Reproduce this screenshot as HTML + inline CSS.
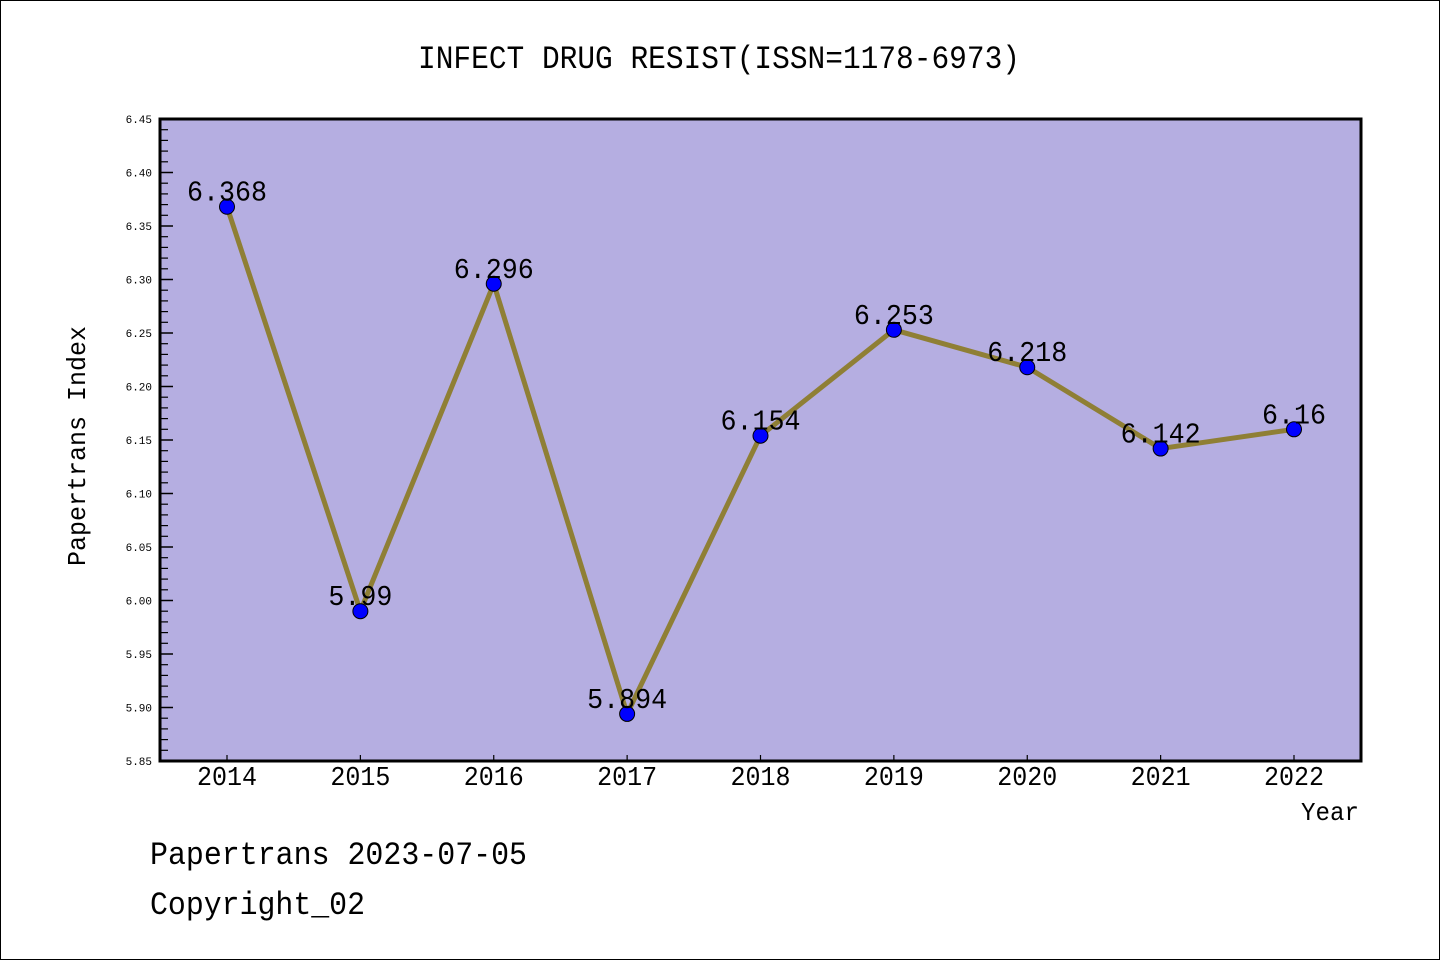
<!DOCTYPE html>
<html><head><meta charset="utf-8"><style>
html,body{margin:0;padding:0;background:#fff}
svg{display:block}
text{font-family:"Liberation Mono","WenQuanYi Zen Hei",monospace;fill:#000}
</style></head><body>
<svg id="chart" width="1440" height="960">
<rect x="0.5" y="0.5" width="1439" height="959" fill="#fff" stroke="#000"/>
<text x="719" y="68" font-size="32" text-anchor="middle" textLength="602" lengthAdjust="spacingAndGlyphs">INFECT DRUG RESIST(ISSN=1178-6973)</text>
<rect x="160" y="119" width="1201" height="642" fill="#b5aee1"/>
<g id="axes"></g>
<g id="marks"></g>
<rect x="160" y="119" width="1201" height="642" fill="none" stroke="#000" stroke-width="3"/>
<text transform="translate(85,446) rotate(-90)" font-size="26" text-anchor="middle" textLength="240" lengthAdjust="spacingAndGlyphs">Papertrans Index</text>
<text x="1359" y="820" font-size="26" text-anchor="end" textLength="58" lengthAdjust="spacingAndGlyphs">Year</text>
<text x="150" y="864" font-size="32" textLength="377" lengthAdjust="spacingAndGlyphs">Papertrans 2023-07-05</text>
<text x="150" y="914" font-size="32" textLength="215" lengthAdjust="spacingAndGlyphs">Copyright_02</text>
</svg>
<script>
const years = ["2014","2015","2016","2017","2018","2019","2020","2021","2022"];
const values = [6.368,5.99,6.296,5.894,6.154,6.253,6.218,6.142,6.16];
const valueLabels = ["6.368","5.99","6.296","5.894","6.154","6.253","6.218","6.142","6.16"];
const yTicks = [5.85,5.90,5.95,6.00,6.05,6.10,6.15,6.20,6.25,6.30,6.35,6.40,6.45];
const yMin = 5.85, yMax = 6.45;
const NS = "http://www.w3.org/2000/svg";
function yS(v){return 761 - (v - yMin) / (yMax - yMin) * 642;}
function xS(i){return 227 + i * (1294 - 227) / (years.length - 1);}
function mk(tag, attrs, parent){const e=document.createElementNS(NS,tag);for(const k in attrs)e.setAttribute(k,attrs[k]);parent.appendChild(e);return e;}
const axes=document.getElementById('axes'), marks=document.getElementById('marks');
yTicks.forEach((t,i)=>{
  const y=yS(t);
  const l=mk('line',{x1:160,x2:173,y1:y,y2:y,stroke:'#000','stroke-width':1.5},axes);
  
  
  const tx=mk('text',{x:152,y:y+4,'font-size':11,'text-anchor':'end','font-family':'Liberation Sans, sans-serif'},axes);
  tx.textContent=t.toFixed(2);
  
  
  if(i<yTicks.length-1){for(let m=1;m<5;m++){
    const ym=yS(t+0.01*m);
    const ml=mk('line',{x1:160,x2:168,y1:ym,y2:ym,stroke:'#000','stroke-width':1.2},axes);
    
    
  }}
});
years.forEach((yr,i)=>{
  const x=xS(i);
  const l=mk('line',{x1:x,x2:x,y1:761,y2:755,stroke:'#000','stroke-width':1.2},axes);
  
  
  const tx=mk('text',{x:x,y:785,'font-size':27,'text-anchor':'middle',textLength:60,lengthAdjust:'spacingAndGlyphs'},axes);
  tx.textContent=yr;
  
  
});
const pl=mk('polyline',{points:values.map((v,i)=>xS(i)+','+yS(v)).join(' '),fill:'none',stroke:'#8f7f35','stroke-width':5,'stroke-linejoin':'round'},marks);


values.forEach((v,i)=>{
  const c=mk('circle',{cx:xS(i),cy:yS(v),r:7.5,fill:'#0000ff',stroke:'#000','stroke-width':1},marks);
  
  
});
values.forEach((v,i)=>{
  const s=valueLabels[i];
  const tx=mk('text',{x:xS(i),y:yS(v)-6,'font-size':29,'text-anchor':'middle',textLength:16*s.length,lengthAdjust:'spacingAndGlyphs'},marks);
  tx.textContent=s;
  
  
});
</script>
</body></html>
